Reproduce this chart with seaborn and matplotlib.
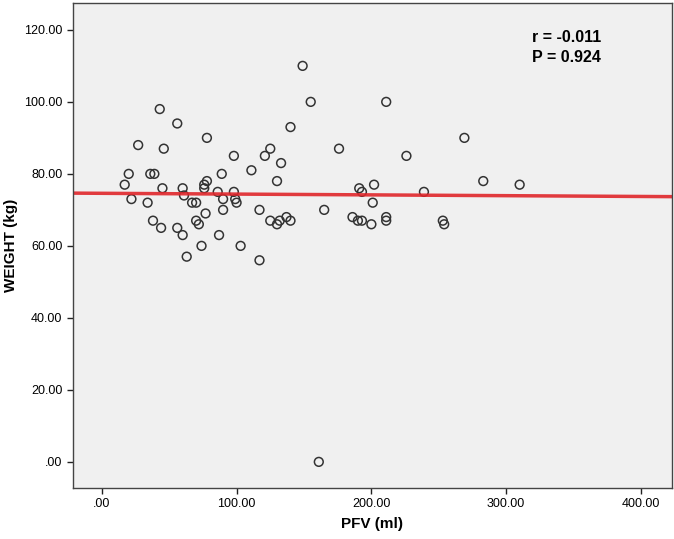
import numpy as np
import pandas as pd
import seaborn as sns
import matplotlib.pyplot as plt
from matplotlib.ticker import FuncFormatter

# values
pfv = [17, 20, 22, 27, 34, 36, 39, 38, 43, 44, 45, 46, 56, 56, 60, 61, 60, 63,
       67, 70, 70, 72, 74, 76, 76, 78, 78, 77, 86, 87, 89, 90, 90, 98, 98, 99,
       100, 103, 111, 117, 117, 121, 125, 125, 130, 130, 132, 133, 137, 140,
       140, 149, 155, 161, 165, 176, 186, 191, 193, 190, 193, 200, 201, 202,
       211, 211, 211, 226, 239, 253, 254, 269, 283, 310]
weight = [77, 80, 73, 88, 72, 80, 80, 67, 98, 65, 76, 87, 94, 65, 76, 74, 63, 57,
          72, 72, 67, 66, 60, 77, 76, 78, 90, 69, 75, 63, 80, 73, 70, 85, 75, 73,
          72, 60, 81, 70, 56, 85, 87, 67, 78, 66, 67, 83, 68, 67,
          93, 110, 100, 0, 70, 87, 68, 76, 75, 67, 67, 66, 72, 77,
          100, 68, 67, 85, 75, 67, 66, 90, 78, 77]

x_ticks = [0, 100, 200, 300, 400]
y_ticks = [0, 20, 40, 60, 80, 100, 120]
stats_text = "r = -0.011\nP = 0.924"

df = pd.DataFrame({"PFV": pfv, "WEIGHT": weight})

sns.set_style("ticks")
plt.rcParams['font.family'] = ['Liberation Sans', 'DejaVu Sans']
plt.rcParams['text.color'] = 'black'
plt.rcParams['axes.labelcolor'] = 'black'

fig = plt.figure(figsize=(6.74, 5.39), dpi=100)
ax = fig.add_axes([0.108, 0.095, 0.889, 0.899])
ax.set_facecolor("#f0f0f0")
ax.set_xlim(-21.5, 423)
ax.set_ylim(-7.2, 127.4)

# scatter with open circles
sns.scatterplot(data=df, x="PFV", y="WEIGHT", ax=ax, s=40, marker="o",
                facecolors="none", edgecolor="#333333", linewidth=1.1)

# fit line across the full axis
sns.regplot(data=df, x="PFV", y="WEIGHT", ax=ax, scatter=False, ci=None,
            truncate=False, line_kws={"color": "#e0262b", "lw": 2.5, "alpha": 0.9})

ax.set_xticks(x_ticks)
ax.set_yticks(y_ticks)
fmt = FuncFormatter(lambda v, p: "%.2f" % v if v != 0 else ".00")
ax.xaxis.set_major_formatter(fmt)
ax.yaxis.set_major_formatter(fmt)
ax.tick_params(labelsize=9, length=4, width=1, color="#222222", labelcolor="black")

for sp in ax.spines.values():
    sp.set_color("#444444")
    sp.set_linewidth(1)

ax.set_xlabel("PFV (ml)", fontsize=11, fontweight="bold", labelpad=5)
ax.set_ylabel("WEIGHT (kg)", fontsize=11, fontweight="bold", labelpad=4)

ax.text(0.766, 0.945, stats_text, transform=ax.transAxes, fontsize=11.5,
        fontweight="bold", va="top", ha="left", linespacing=1.45)

fig.savefig("out.png", dpi=100)
